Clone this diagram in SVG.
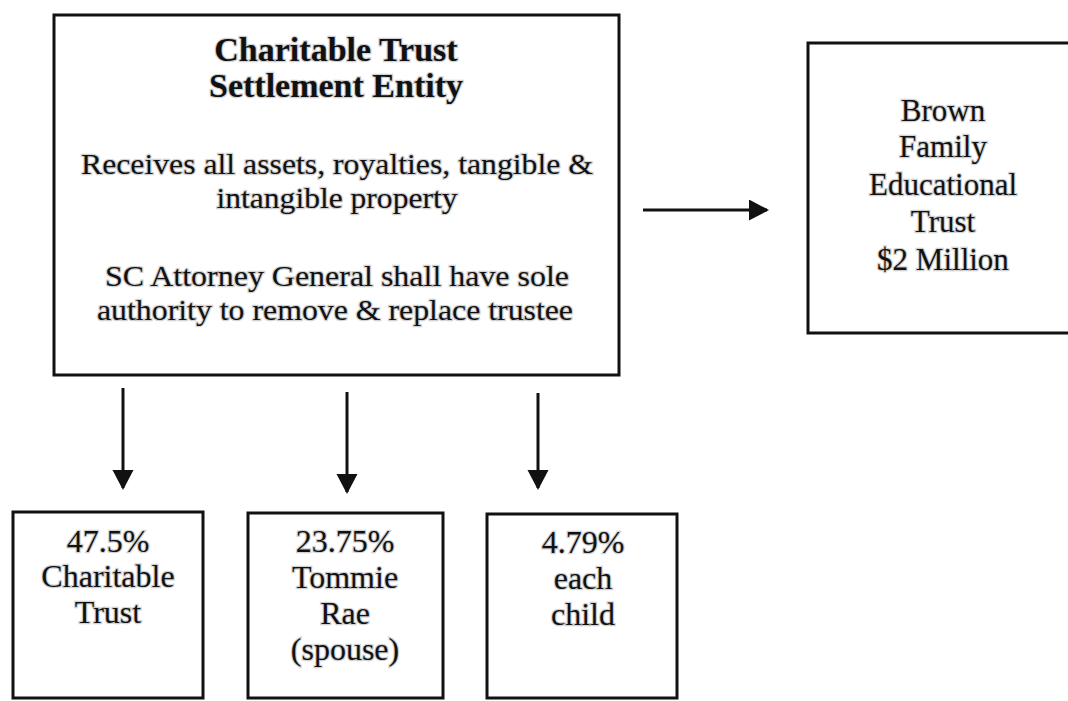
<svg xmlns="http://www.w3.org/2000/svg" width="1068" height="701" viewBox="0 0 1068 701">
  <style>
    .box { fill: #ffffff; stroke: #111111; stroke-width: 3; }
    .t { font-family: "Liberation Serif", "Times New Roman", serif; font-size: 32px; fill: #111111; text-anchor: middle; stroke: #9a9a9a; stroke-width: 2.5; stroke-opacity: 0.45; paint-order: stroke; }
    .title { font-weight: bold; font-size: 34px; }
    .body { font-size: 30px; }
    .conn { stroke: #111111; stroke-width: 3; fill: none; }
  </style>
  <defs>
    <marker id="arrow" markerUnits="userSpaceOnUse" markerWidth="22" markerHeight="22" refX="18" refY="10.5" orient="auto">
      <path d="M0,0 L20,10.5 L0,21 z" fill="#111111"/>
    </marker>
  </defs>
  <rect width="1068" height="701" fill="#ffffff"/>

  <g id="settlement-entity">
    <rect class="box" x="54" y="15" width="565" height="360"/>
    <text class="t title" x="336" y="61">Charitable Trust</text>
    <text class="t title" x="336" y="97">Settlement Entity</text>
    <text class="t body" x="337" y="174" textLength="512" lengthAdjust="spacingAndGlyphs">Receives all assets, royalties, tangible &amp;</text>
    <text class="t body" x="337" y="208" textLength="241" lengthAdjust="spacingAndGlyphs">intangible property</text>
    <text class="t body" x="337" y="286" textLength="464" lengthAdjust="spacingAndGlyphs">SC Attorney General shall have sole</text>
    <text class="t body" x="335" y="320" textLength="476" lengthAdjust="spacingAndGlyphs">authority to remove &amp; replace trustee</text>
  </g>

  <g id="brown-family-trust">
    <rect class="box" x="808" y="43" width="280" height="290"/>
    <text class="t" x="943" y="121" style="font-size:31px">Brown</text>
    <text class="t" x="943" y="157" style="font-size:31px">Family</text>
    <text class="t" x="943" y="195" style="font-size:31px">Educational</text>
    <text class="t" x="943" y="232" style="font-size:31px">Trust</text>
    <text class="t" x="943" y="270" style="font-size:31px">$2 Million</text>
  </g>

  <g id="charitable-trust-share">
    <rect class="box" x="13" y="512" width="190" height="186"/>
    <text class="t" x="108" y="552">47.5%</text>
    <text class="t" x="108" y="587">Charitable</text>
    <text class="t" x="108" y="623">Trust</text>
  </g>

  <g id="spouse-share">
    <rect class="box" x="248" y="513" width="195" height="185"/>
    <text class="t" x="345" y="552">23.75%</text>
    <text class="t" x="345" y="588">Tommie</text>
    <text class="t" x="345" y="624">Rae</text>
    <text class="t" x="345" y="660">(spouse)</text>
  </g>

  <g id="child-share">
    <rect class="box" x="487" y="514" width="190" height="184"/>
    <text class="t" x="583" y="553">4.79%</text>
    <text class="t" x="583" y="589">each</text>
    <text class="t" x="583" y="625">child</text>
  </g>

  <g id="connectors">
    <line class="conn" x1="643" y1="210" x2="767" y2="210" marker-end="url(#arrow)"/>
    <line class="conn" x1="123" y1="388" x2="123" y2="488" marker-end="url(#arrow)"/>
    <line class="conn" x1="347" y1="392" x2="347" y2="492" marker-end="url(#arrow)"/>
    <line class="conn" x1="538" y1="393" x2="538" y2="488" marker-end="url(#arrow)"/>
  </g>
</svg>
